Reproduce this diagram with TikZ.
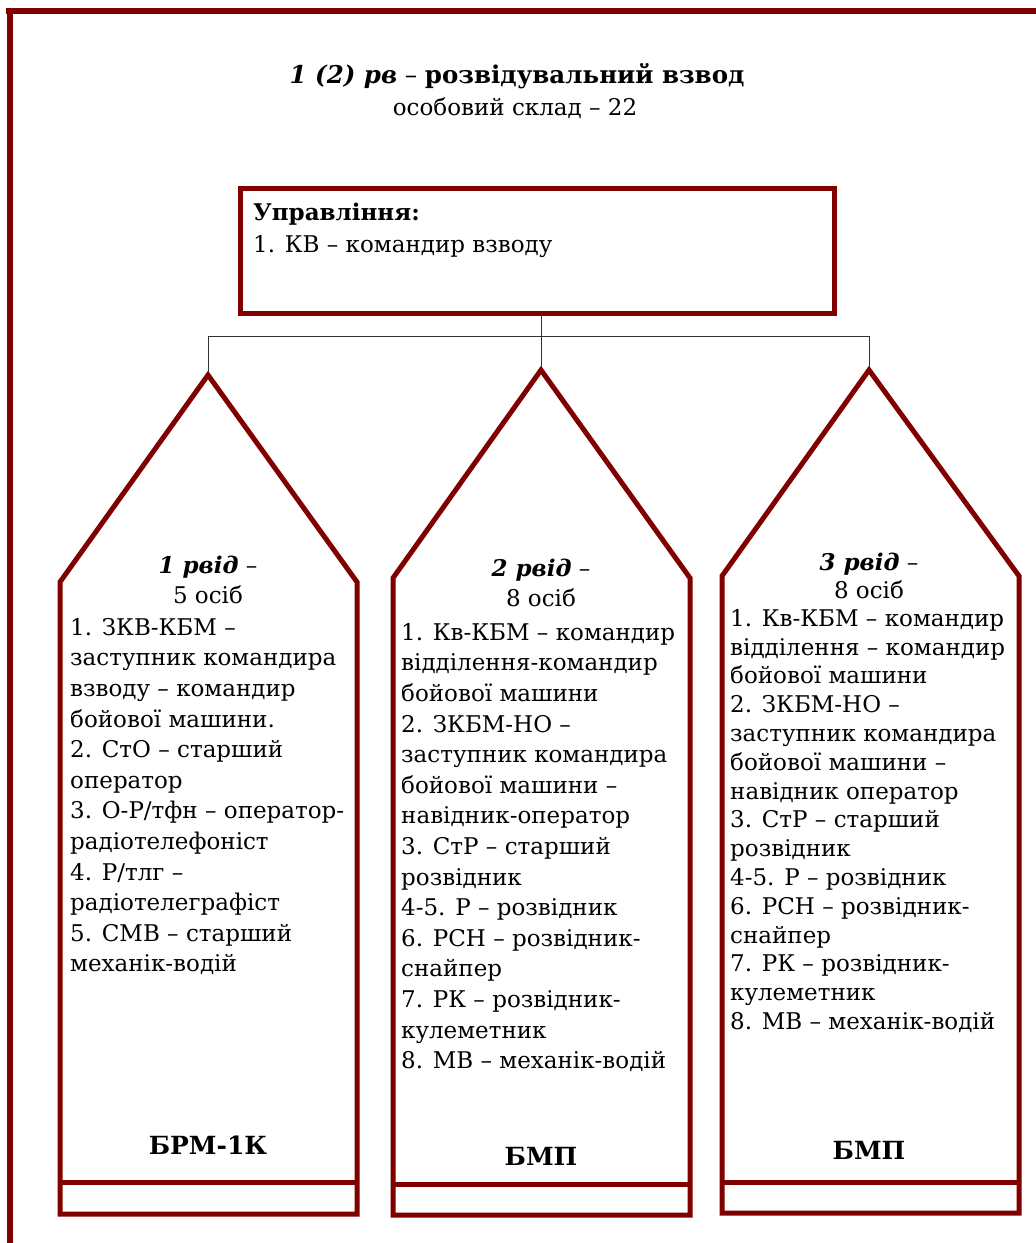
\documentclass[tikz,border=0pt]{standalone}
\usepackage{fontspec}
\setmainfont{DejaVu Serif}
\definecolor{maroon}{RGB}{128,0,0}
\newcommand\fsbody{\fontsize{23}{30.6}\selectfont}
\newcommand\fsbodyc{\fontsize{23}{28.8}\selectfont}
\newcommand\fstitle{\fontsize{24.5}{30}\selectfont}
\newcommand\fssub{\fontsize{23}{30}\selectfont}
\newcommand\fsveh{\fontsize{25}{30}\selectfont}
\tikzset{
  framebar/.style={fill=maroon, draw=none},
  pent/.style={draw=maroon, line width=5pt, line join=miter},
  conn/.style={draw=black!80, line width=1pt},
  bodytext/.style={font=\fsbody, inner sep=0pt, align=left, anchor=north west},
  bodytextc/.style={font=\fsbodyc, inner sep=0pt, align=left, anchor=north west},
  headtext/.style={font=\fsbody, inner sep=0pt, anchor=base},
  veh/.style={font=\fsveh\bfseries, inner sep=0pt, anchor=base},
  titletext/.style={font=\fstitle, inner sep=0pt, anchor=base},
  subtext/.style={font=\fssub, inner sep=0pt, anchor=base},
}
\begin{document}
\begin{tikzpicture}[x=1pt,y=-1pt]
\useasboundingbox (0,0) rectangle (1036,1243);
% outer frame (top and left bars)
\fill[framebar] (6,8) rectangle (1036,14);
\fill[framebar] (7,8) rectangle (13,1243);
% title
\node[titletext] (t1) at (517,83) {\textbf{\textit{1 (2) рв}} – \textbf{розвідувальний взвод}};
\node[subtext] (t2) at (515,115) {особовий склад – 22};
% management box
\node[draw=maroon, line width=5pt, minimum width=594pt, minimum height=125pt, inner sep=0pt] (mgmt) at (537.5,251) {};
\node[font=\fsbody, inner sep=0pt, anchor=base west] (m1) at (253,220) {\textbf{Управління:}};
\node[font=\fsbody, inner sep=0pt, anchor=base west] (m2) at (253,252) {1. КВ – командир взводу};
% connectors
\coordinate (j) at (541,336);
\coordinate (h1) at (208,336);
\coordinate (h3) at (869,336);
\coordinate (a1) at (208,375);
\coordinate (a2) at (541,370);
\coordinate (a3) at (869,370);
\draw[conn] (mgmt.south -| j) -- (j);
\draw[conn] (h1) -- (h3);
\draw[conn] (h1) -- (a1);
\draw[conn] (j) -- (a2);
\draw[conn] (h3) -- (a3);
% pentagons
\draw[pent] (60,1214) -- (60,582) -- (a1) -- (357,582) -- (357,1214) -- cycle;
\draw[pent] (60,1182) -- (357,1182);
\draw[pent] (393,1215) -- (393,578) -- (a2) -- (690,578) -- (690,1215) -- cycle;
\draw[pent] (393,1184) -- (690,1184);
\draw[pent] (722,1213) -- (722,576) -- (a3) -- (1019,576) -- (1019,1213) -- cycle;
\draw[pent] (722,1182) -- (1019,1182);
% pentagon 1 text
\node[headtext] (h1a) at (208,573) {\textbf{\textit{1 рвід}} –};
\node[headtext] (h1b) at (208,603) {5 осіб};
\node[bodytext] (b1) at (70,618) {1. ЗКВ-КБМ –\\
заступник командира\\
взводу – командир\\
бойової машини.\\
2. СтО – старший\\
оператор\\
3. О-Р/тфн – оператор-\\
радіотелефоніст\\
4. Р/тлг –\\
радіотелеграфіст\\
5. СМВ – старший\\
механік-водій};
\node[veh] (v1) at (208,1154) {БРМ-1К};
% pentagon 2 text
\node[headtext] (h2a) at (541,576) {\textbf{\textit{2 рвід}} –};
\node[headtext] (h2b) at (541,606) {8 осіб};
\node[bodytext] (b2) at (401,623) {1. Кв-КБМ – командир\\
відділення-командир\\
бойової машини\\
2. ЗКБМ-НО –\\
заступник командира\\
бойової машини –\\
навідник-оператор\\
3. СтР – старший\\
розвідник\\
4-5. Р – розвідник\\
6. РСН – розвідник-\\
снайпер\\
7. РК – розвідник-\\
кулеметник\\
8. МВ – механік-водій};
\node[veh] (v2) at (541,1165) {БМП};
% pentagon 3 text
\node[headtext] (h3a) at (869,570) {\textbf{\textit{3 рвід}} –};
\node[headtext] (h3b) at (869,598) {8 осіб};
\node[bodytextc] (b3) at (730,609) {1. Кв-КБМ – командир\\
відділення – командир\\
бойової машини\\
2. ЗКБМ-НО –\\
заступник командира\\
бойової машини –\\
навідник оператор\\
3. СтР – старший\\
розвідник\\
4-5. Р – розвідник\\
6. РСН – розвідник-\\
снайпер\\
7. РК – розвідник-\\
кулеметник\\
8. МВ – механік-водій};
\node[veh] (v3) at (869,1159) {БМП};
\end{tikzpicture}
\end{document}
